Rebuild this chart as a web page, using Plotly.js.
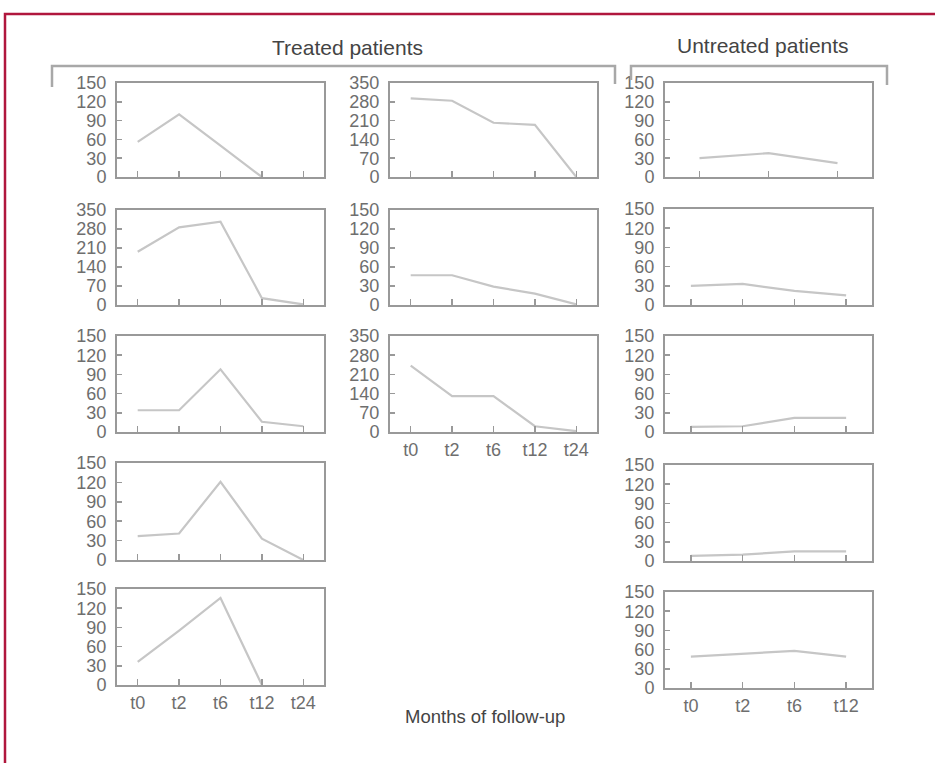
<!DOCTYPE html>
<html>
<head>
<meta charset="utf-8">
<script src="https://cdn.plot.ly/plotly-3.0.1.min.js"></script>
<style>
html,body{margin:0;padding:0;background:#fff;}
#chart{width:935px;height:763px;}
</style>
</head>
<body>
<div id="chart"></div>
<script>
// ---- data ----
const monthsTreated = ['t0', 't2', 't6', 't12', 't24'];
const monthsUntreated = ['t0', 't2', 't6', 't12'];
const monthsUntreatedFirst = ['t0', 't6', 't12'];

const ticks150 = [0, 30, 60, 90, 120, 150];
const ticks350 = [0, 70, 140, 210, 280, 350];

// Treated patients, left column
const treated1 = [56, 100, 50, 0, null];
const treated2 = [196, 286, 307, 25, 2];
const treated3 = [34, 34, 98, 16, 9];
const treated4 = [37, 41, 121, 33, 0];
const treated5 = [36, 85, 136, 0, null];
// Treated patients, middle column
const treated6 = [293, 284, 202, 194, 0];
const treated7 = [47, 47, 29, 18, 1];
const treated8 = [242, 131, 131, 21, 3];
// Untreated patients
const untreated1 = [30, 38, 22];
const untreated2 = [30, 33, 22, 15];
const untreated3 = [8, 9, 22, 22];
const untreated4 = [8, 10, 15, 15];
const untreated5 = [49, 54, 58, 49];

const groupTitles = ['Treated patients', 'Untreated patients'];
const xAxisTitle = 'Months of follow-up';

// ---- layout (pixel geometry) ----
const W = 935, H = 763;
const colX = [[117, 324], [390, 597], [665, 872]];
const rowY = [[83, 177], [210, 305], [336, 432], [463, 560], [589, 685]];
const rowY3 = [[83, 177], [209, 305], [336, 432], [465, 561], [592, 688]];

const panels = [
  {col: 0, row: 0, x: monthsTreated, y: treated1, ticks: ticks150, labels: false},
  {col: 0, row: 1, x: monthsTreated, y: treated2, ticks: ticks350, labels: false},
  {col: 0, row: 2, x: monthsTreated, y: treated3, ticks: ticks150, labels: false},
  {col: 0, row: 3, x: monthsTreated, y: treated4, ticks: ticks150, labels: false},
  {col: 0, row: 4, x: monthsTreated, y: treated5, ticks: ticks150, labels: true},
  {col: 1, row: 0, x: monthsTreated, y: treated6, ticks: ticks350, labels: false},
  {col: 1, row: 1, x: monthsTreated, y: treated7, ticks: ticks150, labels: false},
  {col: 1, row: 2, x: monthsTreated, y: treated8, ticks: ticks350, labels: true},
  {col: 2, row: 0, x: monthsUntreatedFirst, y: untreated1, ticks: ticks150, labels: false},
  {col: 2, row: 1, x: monthsUntreated, y: untreated2, ticks: ticks150, labels: false},
  {col: 2, row: 2, x: monthsUntreated, y: untreated3, ticks: ticks150, labels: false},
  {col: 2, row: 3, x: monthsUntreated, y: untreated4, ticks: ticks150, labels: false},
  {col: 2, row: 4, x: monthsUntreated, y: untreated5, ticks: ticks150, labels: true}
];

const axisColor = '#999999';
const textColor = '#6e6e6e';
const tickFont = {family: 'Liberation Sans, Arial, sans-serif', size: 18, color: textColor};

const data = [];
const layout = {
  width: W, height: H,
  margin: {l: 0, r: 0, t: 0, b: 0},
  paper_bgcolor: '#ffffff',
  plot_bgcolor: '#ffffff',
  showlegend: false,
  annotations: [],
  shapes: []
};

panels.forEach((p, i) => {
  const n = i + 1;
  const xa = 'xaxis' + (n === 1 ? '' : n);
  const ya = 'yaxis' + (n === 1 ? '' : n);
  const xr = 'x' + (n === 1 ? '' : n);
  const yr = 'y' + (n === 1 ? '' : n);
  const cx = colX[p.col];
  const ry = (p.col === 2 ? rowY3 : rowY)[p.row];
  data.push({
    type: 'scatter', mode: 'lines',
    x: p.x, y: p.y, xaxis: xr, yaxis: yr,
    line: {color: '#c6c6c6', width: 2.2},
    hoverinfo: 'skip'
  });
  layout[xa] = {
    domain: [cx[0] / W, cx[1] / W],
    anchor: yr,
    type: 'category',
    categoryorder: 'array', categoryarray: p.x,
    range: [-0.5, p.x.length - 0.5],
    showline: true, mirror: true, linecolor: axisColor, linewidth: 2,
    ticks: 'inside', ticklen: 6, tickwidth: 1.5, tickcolor: axisColor,
    showgrid: false, zeroline: false,
    showticklabels: p.labels,
    tickfont: tickFont,
    fixedrange: true
  };
  layout[ya] = {
    domain: [1 - ry[1] / H, 1 - ry[0] / H],
    anchor: xr,
    range: [0, p.ticks[p.ticks.length - 1]],
    tickmode: 'array', tickvals: p.ticks,
    showline: true, mirror: true, linecolor: axisColor, linewidth: 2,
    ticks: 'inside', ticklen: 5, tickwidth: 1.5, tickcolor: axisColor,
    showgrid: false, zeroline: false,
    tickfont: tickFont,
    ticklabelstandoff: 5,
    fixedrange: true
  };
});

// group titles
const titleFont = {family: 'Liberation Sans, Arial, sans-serif', size: 21, color: '#444444'};
layout.annotations.push({
  xref: 'paper', yref: 'paper', x: 347 / W, y: 1 - 47 / H,
  text: groupTitles[0], showarrow: false, xanchor: 'center', yanchor: 'middle',
  font: titleFont
});
layout.annotations.push({
  xref: 'paper', yref: 'paper', x: 763 / W, y: 1 - 46 / H,
  text: groupTitles[1], showarrow: false, xanchor: 'center', yanchor: 'middle',
  font: titleFont
});
layout.annotations.push({
  xref: 'paper', yref: 'paper', x: 485 / W, y: 1 - 716 / H,
  text: xAxisTitle, showarrow: false, xanchor: 'center', yanchor: 'middle',
  font: {family: 'Liberation Sans, Arial, sans-serif', size: 18.5, color: '#444444'}
});

// brackets
function bracket(x0, x1, yTop, yL, yR) {
  layout.shapes.push({
    type: 'path', xref: 'paper', yref: 'paper',
    path: 'M ' + (x0 / W) + ' ' + (1 - yL / H) + ' L ' + (x0 / W) + ' ' + (1 - yTop / H) +
          ' L ' + (x1 / W) + ' ' + (1 - yTop / H) + ' L ' + (x1 / W) + ' ' + (1 - yR / H),
    line: {color: '#a8a8a8', width: 2.5}
  });
}
bracket(52, 615, 66, 87, 84);
bracket(631, 887, 66, 80, 85);

// outer red frame
layout.shapes.push({
  type: 'path', xref: 'paper', yref: 'paper',
  path: 'M ' + (5 / W) + ' 0 L ' + (5 / W) + ' ' + (1 - 14 / H) + ' L 1.01 ' + (1 - 14 / H),
  line: {color: '#b0173d', width: 2.5}
});

Plotly.newPlot('chart', data, layout, {displayModeBar: false, staticPlot: true});
</script>
</body>
</html>
